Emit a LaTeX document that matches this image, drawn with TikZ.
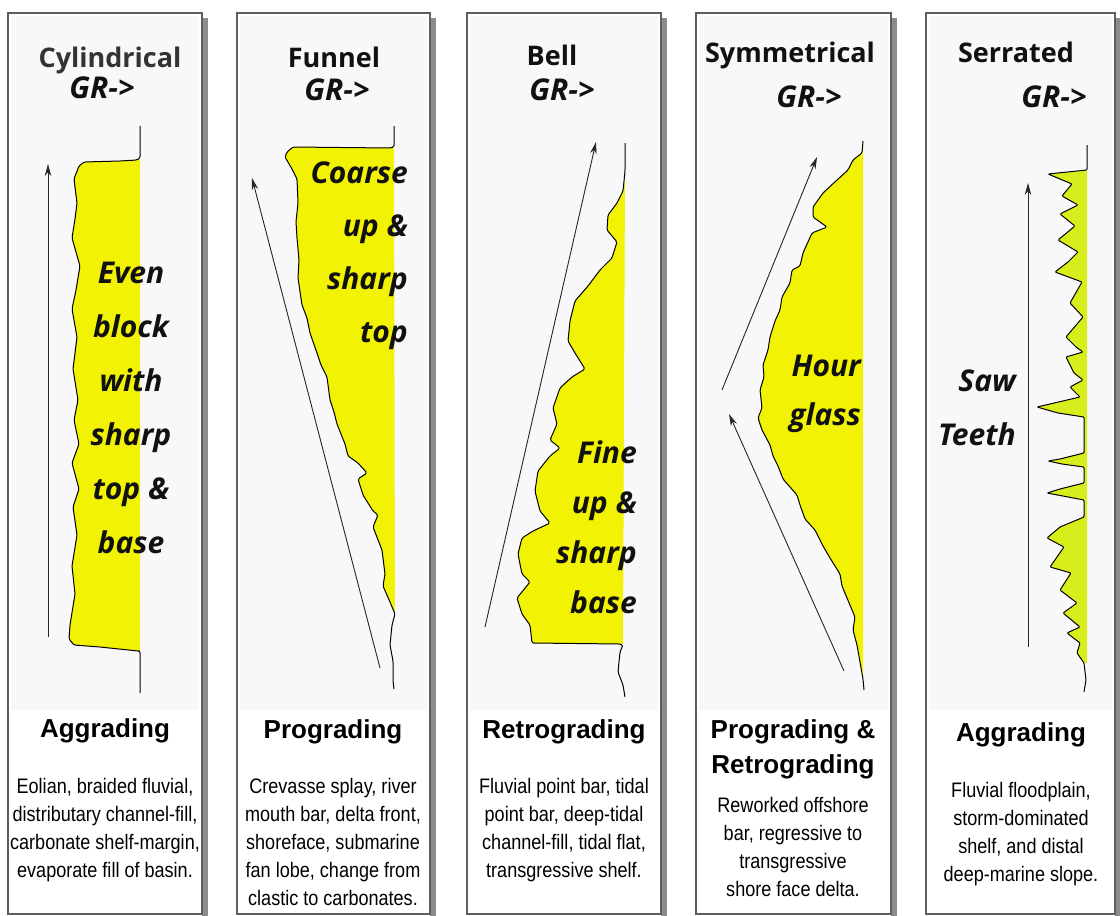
\documentclass[tikz,border=0pt]{standalone}
\usepackage{fontspec}
\setmainfont{Liberation Sans}
\newfontfamily\osans{Open Sans}
\newfontfamily\nsans{Liberation Sans}[FakeStretch=0.86]
\usetikzlibrary{arrows.meta}
\definecolor{logyellow}{HTML}{F2F204}
\definecolor{sawyellow}{HTML}{D8EE1C}
\definecolor{boxgray}{HTML}{5E5E5E}
\definecolor{shadowgray}{HTML}{8C8C8C}
\definecolor{areagray}{HTML}{F8F8FB}
\definecolor{inkgray}{HTML}{111111}
\definecolor{titlegray}{HTML}{333333}
\tikzset{
  panelframe/.style={draw=boxgray, line width=1.3pt},
  panelshadow/.style={fill=shadowgray},
  panelarea/.style={fill=areagray},
  logline/.style={draw=black, line width=1pt, line join=round, rounded corners=1.5pt},
  logfill/.style={fill=logyellow, rounded corners=1.5pt},
  sawfill/.style={fill=sawyellow, rounded corners=1pt},
  trend/.style={draw=black!85, line width=0.9pt, -{Stealth[length=12pt,width=6.5pt]}},
  toptitle/.style={font=\osans\bfseries\fontsize{27}{30}\selectfont, text=inkgray, inner sep=0pt, anchor=base},
  grlabel/.style={font=\osans\bfseries\itshape\fontsize{30}{32}\selectfont, text=inkgray, inner sep=0pt, anchor=base},
  inlabel/.style={font=\osans\bfseries\itshape\fontsize{30}{54}\selectfont, text=inkgray, inner sep=0pt},
  bottitle/.style={font=\bfseries\fontsize{26}{35}\selectfont, inner sep=0pt, anchor=base, align=center},
  desc/.style={font=\nsans\fontsize{21}{28}\selectfont, inner sep=0pt, anchor=base, align=center},
}
\def\logA{(140,158) -- (137,160) -- (120,161) -- (84,162) -- (79,166) -- (74,179) -- (77,203) -- (75,219) -- (72,238) -- (80,266) -- (76,290) -- (72,309) -- (77,337) -- (73,369) -- (78,400) -- (74,420) -- (79,444) -- (72,463) -- (79,489) -- (73,507) -- (77,535) -- (72,566) -- (75,594) -- (70,625) -- (69,639) -- (74,645) -- (100,647) -- (138,651) -- (140,651)}
\def\logB{(394,147) -- (390,148) -- (293,147) -- (287,152) -- (285,157) -- (292,169) -- (297,179) -- (298,203) -- (296,222) -- (297,238) -- (299,260) -- (298,278) -- (302,305) -- (307,318) -- (310,333) -- (317,353) -- (321,365) -- (327,377) -- (330,400) -- (334,412) -- (337,424) -- (345,444) -- (348,456) -- (358,463) -- (367,473) -- (358,479) -- (363,495) -- (373,511) -- (378,515) -- (373,527) -- (382,550) -- (385,574) -- (383,586) -- (390,602) -- (395,614)}
\def\logC{(625,171) -- (623,191) -- (617,203) -- (608,215) -- (607,230) -- (617,242) -- (612,258) -- (600,270) -- (588,286) -- (575,301) -- (570,321) -- (568,341) -- (575,353) -- (585,369) -- (572,377) -- (560,388) -- (553,408) -- (557,424) -- (550,440) -- (560,448) -- (550,456) -- (538,471) -- (535,491) -- (540,511) -- (550,523) -- (533,531) -- (522,538) -- (518,554) -- (522,574) -- (530,582) -- (517,598) -- (522,614) -- (530,625) -- (532,643) -- (620,644) -- (623,645)}
\def\logD{(863,141) -- (862,153) -- (853,160) -- (848,170) -- (837,180) -- (823,193) -- (813,207) -- (813,217) -- (827,227) -- (812,233) -- (803,253) -- (800,266) -- (792,270) -- (790,283) -- (782,297) -- (780,310) -- (775,321) -- (770,337) -- (768,350) -- (763,365) -- (764,377) -- (760,390) -- (762,408) -- (758,418) -- (762,430) -- (770,445) -- (773,456) -- (778,466) -- (783,479) -- (797,495) -- (800,505) -- (805,519) -- (815,530) -- (823,546) -- (830,558) -- (840,574) -- (842,586) -- (847,598) -- (855,617) -- (853,630) -- (857,645) -- (860,662) -- (863,679)}
\def\logE{(1087,170) -- (1048,174) -- (1072,184) -- (1062,196) -- (1078,205) -- (1060,214) -- (1075,226) -- (1058,240) -- (1078,252) -- (1068,262) -- (1055,272) -- (1082,282) -- (1070,303) -- (1083,317) -- (1066,337) -- (1076,347) -- (1083,352) -- (1066,357) -- (1074,373) -- (1083,380) -- (1070,387) -- (1080,397) -- (1037,407) -- (1058,413) -- (1084,417) -- (1084,453) -- (1060,459) -- (1048,461) -- (1062,464) -- (1084,467) -- (1084,483) -- (1060,489) -- (1047,493) -- (1084,500) -- (1084,517) -- (1060,527) -- (1047,538) -- (1064,547) -- (1050,567) -- (1071,573) -- (1060,590) -- (1077,603) -- (1063,613) -- (1080,627) -- (1067,633) -- (1080,643) -- (1077,653) -- (1084,663)}
\begin{document}
\begin{tikzpicture}[x=1pt,y=-1pt]
\useasboundingbox (0,0) rectangle (1120,916);
\fill[white] (0,0) rectangle (1120,916);
% panels
\foreach \L/\R in {8/202, 237/430, 467/661, 696/891, 926/1115} {
  \fill[panelshadow] (\R,18) rectangle ({\R+6},916);
  \fill[panelarea] ({\L+3},16) rectangle ({\R-3},710);
  \draw[panelframe] (\L,13) rectangle (\R,914);
}
% logs
\fill[logfill] \logA -- cycle;
\draw[logline] (140,126) -- \logA -- (140,693);
\fill[logfill] \logB -- cycle;
\draw[logline] (394,126) -- \logB -- (392,625) -- (390,645) -- (393,661) -- (393,681) -- (394,689);
\fill[logfill] \logC -- cycle;
\draw[logline] (625,143) -- \logC -- (620,652) -- (618,672) -- (623,685) -- (625,697);
\fill[logfill] \logD -- cycle;
\draw[logline] \logD -- (864,690);
\fill[sawfill] \logE -- (1087,663) -- cycle;
\draw[logline, rounded corners=1pt] (1087,145) -- \logE -- (1086,680) -- (1084,692);
% trend arrows
\coordinate (a1s) at (48,637);  \coordinate (a1e) at (48,164);
\coordinate (a2s) at (380,668); \coordinate (a2e) at (252,178);
\coordinate (a3s) at (485,627); \coordinate (a3e) at (596,142);
\coordinate (a4s) at (722,390); \coordinate (a4e) at (817,157);
\coordinate (a5s) at (844,671); \coordinate (a5e) at (729,414);
\coordinate (a6s) at (1028,647); \coordinate (a6e) at (1028,183);
\draw[trend] (a1s) -- (a1e);
\draw[trend] (a2s) -- (a2e);
\draw[trend] (a3s) -- (a3e);
\draw[trend] (a4s) -- (a4e);
\draw[trend] (a5s) -- (a5e);
\draw[trend] (a6s) -- (a6e);
% top titles
\node[toptitle, text=titlegray] (t1) at (110,67) {Cylindrical};
\node[toptitle] (t2) at (334,67) {Funnel};
\node[toptitle] (t3) at (552,65) {Bell};
\node[toptitle] (t4) at (790,62) {Symmetrical};
\node[toptitle] (t5) at (1016,62) {Serrated};
\node[grlabel] (g1) at (102,98) {GR->};
\node[grlabel] (g2) at (337,100) {GR->};
\node[grlabel] (g3) at (562,100) {GR->};
\node[grlabel] (g4) at (809,107) {GR->};
\node[grlabel] (g5) at (1054,107) {GR->};
% inner labels (base anchor = last line baseline)
\node[inlabel, align=center, anchor=base] (i1) at (131,553) {Even\\block\\with\\sharp\\top \&\\base};
\node[inlabel, align=right, anchor=base east, font=\osans\bfseries\itshape\fontsize{30}{53}\selectfont] (i2) at (408,342) {Coarse\\up \&\\sharp\\top};
\node[inlabel, align=right, anchor=base east, font=\osans\bfseries\itshape\fontsize{30}{50}\selectfont] (i3) at (637,613) {Fine\\up \&\\sharp\\base};
\node[inlabel, align=right, anchor=base east, font=\osans\bfseries\itshape\fontsize{30}{49}\selectfont] (i4) at (861,425) {Hour\\glass};
\node[inlabel, align=right, anchor=base east, font=\osans\bfseries\itshape\fontsize{30}{54}\selectfont] (i5) at (1016,445) {Saw\\Teeth};
% bottom titles
\node[bottitle] (b1) at (105,737) {Aggrading};
\node[bottitle] (b2) at (333,738) {Prograding};
\node[bottitle] (b3) at (564,738) {Retrograding};
\node[bottitle] (b4) at (793,773) {Prograding \&\\Retrograding};
\node[bottitle] (b5) at (1021,741) {Aggrading};
% descriptions
\node[desc] (d1) at (105,877) {Eolian, braided fluvial,\\distributary channel-fill,\\carbonate shelf-margin,\\evaporate fill of basin.};
\node[desc] (d2) at (333,905) {Crevasse splay, river\\mouth bar, delta front,\\shoreface, submarine\\fan lobe, change from\\clastic to carbonates.};
\node[desc] (d3) at (564,877) {Fluvial point bar, tidal\\point bar, deep-tidal\\channel-fill, tidal flat,\\transgressive shelf.};
\node[desc] (d4) at (793,896) {Reworked offshore\\bar, regressive to\\transgressive\\shore face delta.};
\node[desc] (d5) at (1021,881) {Fluvial floodplain,\\storm-dominated\\shelf, and distal\\deep-marine slope.};
\end{tikzpicture}
\end{document}
